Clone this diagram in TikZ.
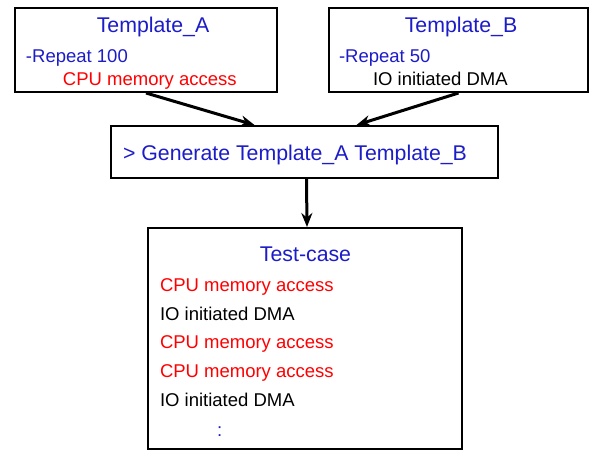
\documentclass[tikz,border=0pt]{standalone}
\usepackage{fontspec}
\setmainfont{Liberation Sans}
\usetikzlibrary{arrows.meta, positioning}
\definecolor{tblue}{HTML}{1C1CC8}
\definecolor{tred}{HTML}{FF0000}
\tikzset{
  every picture/.style={line width=2pt},
  box/.style 2 args={draw=black, fill=white, rectangle, minimum width=#1, minimum height=#2, inner sep=0pt},
  head/.style={font=\fontsize{21.3}{25}\selectfont, text=tblue, anchor=base, inner sep=0pt},
  cmd/.style={font=\fontsize{21.3}{25}\selectfont, text=tblue, anchor=base west, inner sep=0pt},
  txt/.style={font=\fontsize{18.5}{22}\selectfont, text=#1, anchor=base west, inner sep=0pt},
  txt/.default=black,
  arrow/.style={-{Stealth[length=14pt, width=11pt]}, line width=3pt},
}

\begin{document}
\begin{tikzpicture}[x=1pt, y=-1pt]
  \useasboundingbox (0,0) rectangle (590,451);
  % the two templates
  \node[box={262pt}{84pt}] (ta) at (146,50) {};
  \node[head] (ta-head) at (153,32) {Template\_A};
  \node[txt=tblue] (ta-rep) at (25,62) {-Repeat 100};
  \node[txt=tred] (ta-op) at (62,85) {CPU memory access};
  \node[box={259pt}{84pt}] (tb) at (458.5,50) {};
  \node[head] (tb-head) at (461,32) {Template\_B};
  \node[txt=tblue] (tb-rep) at (338,62) {-Repeat 50};
  \node[txt] (tb-op) at (372,85) {IO initiated DMA};
  % generator command
  \node[box={387pt}{52pt}] (gen) at (304.5,152) {};
  \node[cmd] (gen-cmd) at (122,160) {> Generate Template\_A Template\_B};
  % resulting test-case
  \node[box={314pt}{221pt}] (tc) at (305,338.5) {};
  \node[head] (tc-head) at (305.5,261) {Test-case};
  \node[txt=tred] (tc-l1) at (159,291) {CPU memory access};
  \node[txt] (tc-l2) at (159,320) {IO initiated DMA};
  \node[txt=tred] (tc-l3) at (159,348) {CPU memory access};
  \node[txt=tred] (tc-l4) at (159,377) {CPU memory access};
  \node[txt] (tc-l5) at (159,406) {IO initiated DMA};
  \node[txt=tblue] (tc-more) at (216,436) {:};
  \draw[arrow] (ta.south) -- ([xshift=-50pt]gen.north);
  \draw[arrow] (tb.south) -- ([xshift=52pt]gen.north);
  \draw[arrow] ([xshift=2pt]gen.south) -- ([xshift=2pt]tc.north);
\end{tikzpicture}
\end{document}
